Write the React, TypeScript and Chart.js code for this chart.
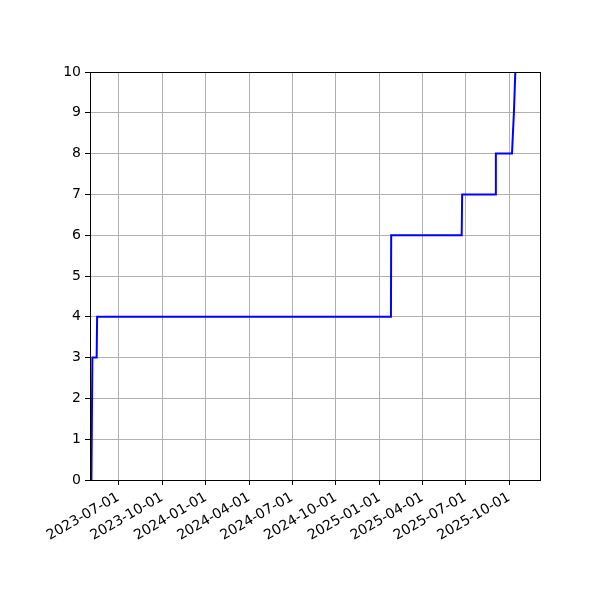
import React, { useEffect, useRef } from "react";
import { Chart, registerables } from "chart.js";

Chart.register(...registerables);

const dates = [
  "2023-05-05",
  "2023-05-07",
  "2023-05-16",
  "2023-05-17",
  "2025-01-25",
  "2025-01-25T12:00:00Z",
  "2025-06-23",
  "2025-06-24",
  "2025-09-02",
  "2025-09-03",
  "2025-10-07",
  "2025-10-11",
  "2025-10-14",
];
const counts = [0, 3, 3, 4, 4, 6, 6, 7, 7, 8, 8, 9, 10];

const tickLabels = [
  "2023-07-01",
  "2023-10-01",
  "2024-01-01",
  "2024-04-01",
  "2024-07-01",
  "2024-10-01",
  "2025-01-01",
  "2025-04-01",
  "2025-07-01",
  "2025-10-01",
];

const xMin = "2023-05-02";
const xMax = "2025-12-05";
const yMin = 0;
const yMax = 10;

const toMs = (s: string) => Date.parse(s.length === 10 ? s + "T00:00:00Z" : s);
const fmt = (v: number) => new Date(v).toISOString().slice(0, 10);

const frame = {
  id: "frame",
  afterDraw(chart: any) {
    const { ctx, chartArea } = chart;
    ctx.save();
    ctx.strokeStyle = "#000";
    ctx.lineWidth = 1;
    ctx.strokeRect(
      Math.round(chartArea.left) + 0.5,
      Math.round(chartArea.top) + 0.5,
      Math.round(chartArea.right - chartArea.left),
      Math.round(chartArea.bottom - chartArea.top)
    );
    ctx.restore();
  },
};

export default function App() {
  const ref = useRef<HTMLCanvasElement | null>(null);
  useEffect(() => {
    if (!ref.current) return;
    const font = { family: "DejaVu Sans", size: 14 };
    const chart = new Chart(ref.current, {
      type: "line",
      data: {
        datasets: [
          {
            data: dates.map((d, i) => ({ x: toMs(d), y: counts[i] })),
            borderColor: "#0000ff",
            borderWidth: 2,
            pointRadius: 0,
            fill: false,
            tension: 0,
          },
        ],
      },
      options: {
        animation: false,
        responsive: false,
        devicePixelRatio: 1,
        layout: { padding: { top: 72, right: 60, left: 0, bottom: 0 } },
        plugins: { legend: { display: false }, tooltip: { enabled: false } },
        scales: {
          x: {
            type: "linear",
            min: toMs(xMin),
            max: toMs(xMax),
            afterBuildTicks: (scale: any) => {
              scale.ticks = tickLabels.map((t) => ({ value: toMs(t) }));
            },
            afterFit: (scale: any) => {
              scale.height = 120;
            },
            ticks: {
              callback: (v: any) => fmt(Number(v)),
              minRotation: 30,
              maxRotation: 30,
              autoSkip: false,
              color: "#000",
              font,
              padding: 4,
            },
            grid: { color: "#b0b0b0", lineWidth: 1, tickColor: "#000", tickLength: 5 },
            border: { color: "#000", width: 1 },
          },
          y: {
            min: yMin,
            max: yMax,
            afterFit: (scale: any) => {
              scale.width = 90;
            },
            ticks: { stepSize: 1, color: "#000", font, padding: 4 },
            grid: { color: "#b0b0b0", lineWidth: 1, tickColor: "#000", tickLength: 5 },
            border: { color: "#000", width: 1 },
          },
        },
      },
      plugins: [frame],
    });
    return () => chart.destroy();
  }, []);
  return (
    <div style={{ position: "absolute", left: 0, top: 0, width: 600, height: 600, background: "#fff" }}>
      <canvas ref={ref} width={600} height={600} />
    </div>
  );
}
